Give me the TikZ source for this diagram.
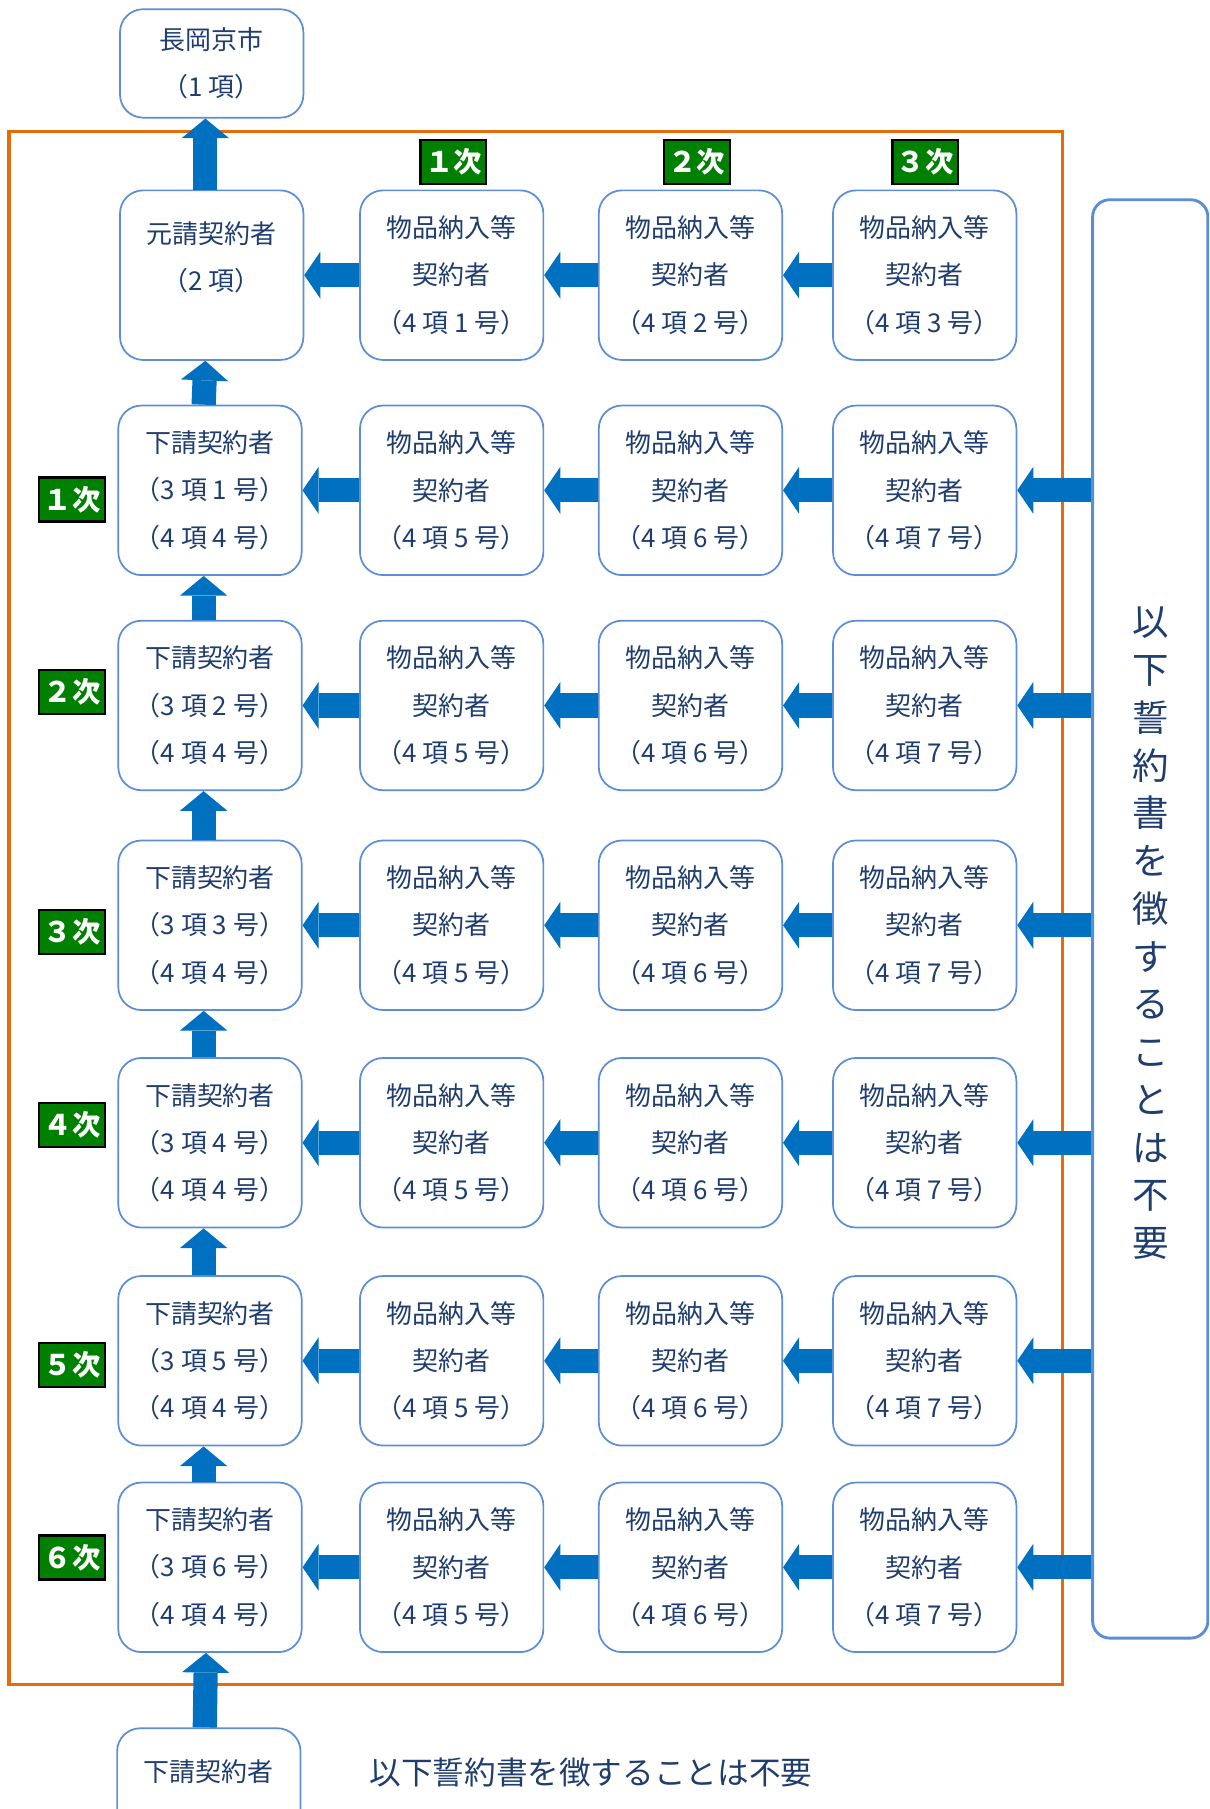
\documentclass[tikz,border=0pt]{standalone}
\usepackage{fontspec}
\setmainfont{Noto Sans CJK JP}
\usepackage{xcolor}
\usepackage{tikz}
\usetikzlibrary{arrows.meta,positioning}

\definecolor{framebrown}{HTML}{E46C0A}
\definecolor{boxblue}{HTML}{5B8ED6}
\definecolor{arrowblue}{HTML}{0070C0}
\definecolor{txtblue}{HTML}{1F3D6E}
\definecolor{tiergreen}{HTML}{008000}

\tikzset{
	party/.style={draw=boxblue,line width=0.03cm,rounded corners=0.4cm,fill=white,
		minimum width=3.18cm,minimum height=2.94cm,inner sep=0pt,align=center,
		text=txtblue,font=\fontsize{12.8pt}{0.82cm}\selectfont},
	fatarrow/.style={draw=arrowblue,line width=0.42cm,
		-{Triangle[width=0.82cm,length=#1,line width=0pt]}},
	fatarrow/.default=0.28cm,
	tierlabel/.style={fill=tiergreen,draw=black,line width=0.04cm,text=white,
		minimum width=1.14cm,minimum height=0.76cm,inner sep=0pt,
		font=\fontsize{14pt}{16pt}\selectfont\bfseries}
}

\begin{document}
\begin{tikzpicture}[x={(0.02cm,0)},y={(0,-0.02cm)}]
		\useasboundingbox (0,0) rectangle (1048,1568);
		\clip (0,0) rectangle (1048,1568);
		% frame
		\draw[framebrown,line width=0.06cm] (8,114) rectangle (921,1460);
		% parties
		\node[party,minimum height=1.88cm] (city) at (183.5,55) {長岡京市\\（1 項）};
		\node[party] (sub0) at (183.5,238.5) {元請契約者\\（2 項）\\[-0.17cm]~};
		\foreach \c/\x/\n in {2/391.5/1,3/598.5/2,4/801.5/3}
			\node[party] (sup0-\c) at (\x,238.5) {物品納入等\\契約者\\（4 項 \n{} 号）};
		\foreach \r/\y in {1/425,2/611.5,3/802,4/990.5,5/1179.5,6/1358.5} {
			\node[party] (sub\r) at (182,\y) {下請契約者\\（3 項 \r{} 号）\\（4 項 4 号）};
			\node[party] (sup\r-2) at (391.5,\y) {物品納入等\\契約者\\（4 項 5 号）};
			\node[party] (sup\r-3) at (598.5,\y) {物品納入等\\契約者\\（4 項 6 号）};
			\node[party] (sup\r-4) at (801.5,\y) {物品納入等\\契約者\\（4 項 7 号）};
		}
		\node[party] (last) at (181,1571.5) {下請契約者\\[0.65cm]~};
		% side box
		\node[draw=boxblue,line width=0.05cm,rounded corners=0.3cm,
			minimum width=2cm,minimum height=24.94cm] (side) at (997,796.5) {};
		\node[text=txtblue,align=center,inner sep=0pt,
			font=\fontsize{18pt}{0.828cm}\selectfont] (sidetxt) at (997,809)
			{以\\下\\誓\\約\\書\\を\\徴\\す\\る\\こ\\と\\は\\不\\要};
		\node[anchor=west,text=txtblue,inner sep=0pt,
			font=\fontsize{15.6pt}{18pt}\selectfont] (note) at (320,1536)
			{以下誓約書を徴することは不要};
		% tier labels
		\foreach \i/\x/\t in {1/393/１次,2/604/２次,3/802/３次}
			\node[tierlabel] (top\i) at (\x,140.5) {\t};
		\foreach \i/\y/\t in {1/433/１次,2/600/２次,3/808/３次,4/975/４次,5/1183/５次,6/1350/６次}
			\node[tierlabel] (tier\i) at (62.5,\y) {\t};
		% arrows
		\draw[fatarrow=0.34cm] ([xshift=-0.11cm]sub0.north) -- ([xshift=-0.11cm]city.south);
		\foreach \r [evaluate=\r as \p using int(\r-1)] in {1,...,6}
			\draw[fatarrow=0.34cm] ([xshift=-0.11cm]sub\r.north) -- ([xshift=-0.11cm]sub\p.south);
		\draw[fatarrow=0.34cm] ([xshift=-0.07cm]last.north) -- ([xshift=-0.07cm]sub6.south);
		\foreach \r in {0,...,6} {
			\draw[fatarrow] (sup\r-2.west) -- (sub\r.east);
			\draw[fatarrow] (sup\r-3.west) -- (sup\r-2.east);
			\draw[fatarrow] (sup\r-4.west) -- (sup\r-3.east);
		}
		\foreach \r in {1,...,6}
			\draw[fatarrow] (sup\r-4.east -| side.west) -- (sup\r-4.east);
	\end{tikzpicture}
\end{document}
